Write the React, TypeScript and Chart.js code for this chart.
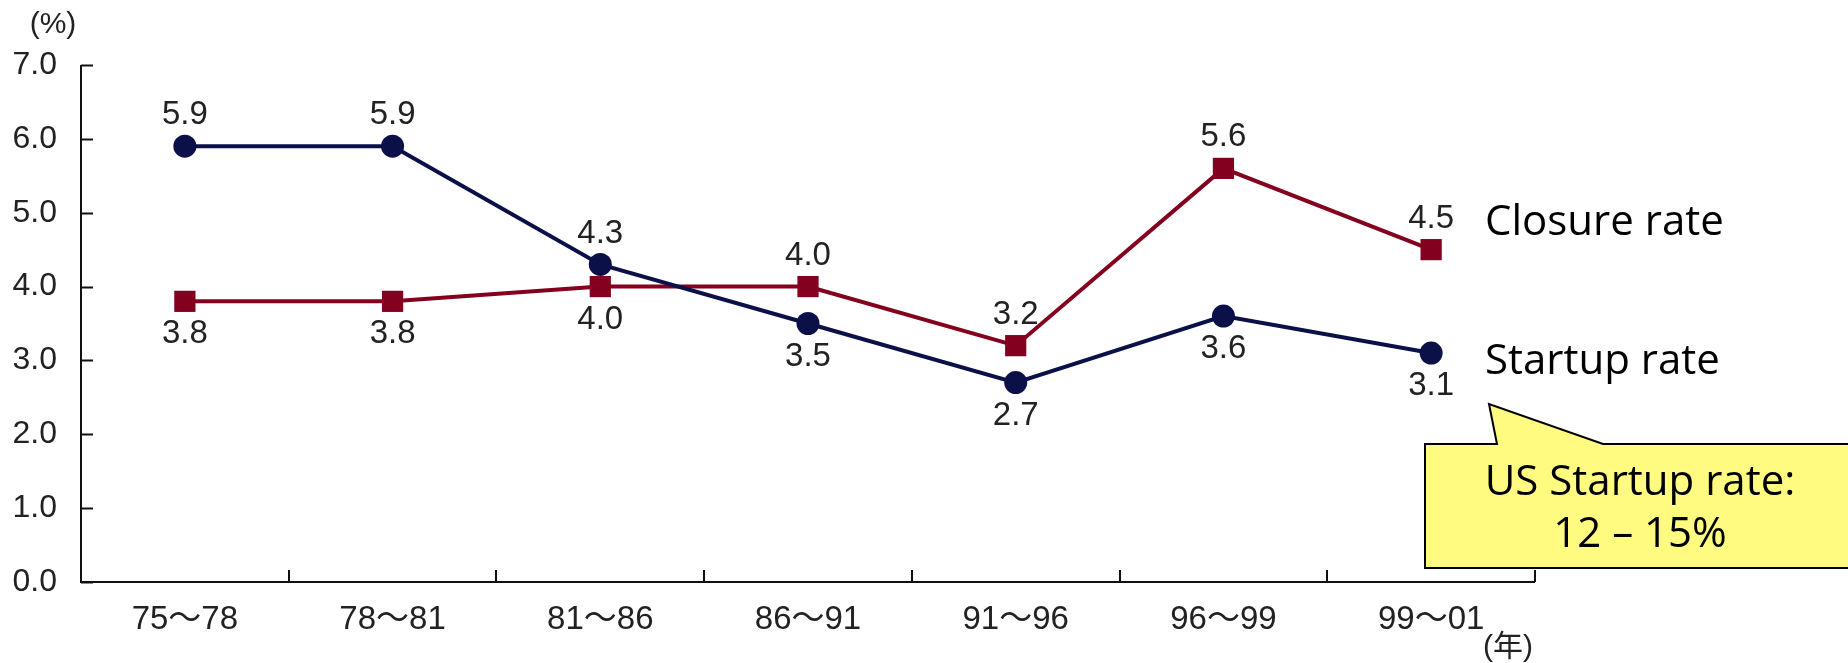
import React, { useEffect, useRef } from "react";
import { Chart, registerables } from "chart.js";

Chart.register(...registerables);

const categories = ["75～78", "78～81", "81～86", "86～91", "91～96", "96～99", "99～01"];
const startupRate = [5.9, 5.9, 4.3, 3.5, 2.7, 3.6, 3.1];
const closureRate = [3.8, 3.8, 4.0, 4.0, 3.2, 5.6, 4.5];
// label placement: 1 = above, -1 = below
const startupLabelPos = [1, 1, 1, -1, -1, -1, -1];
const closureLabelPos = [-1, -1, -1, 1, 1, 1, 1];
const yTicks = [0, 1, 2, 3, 4, 5, 6, 7];

const TICK_FONT = '"Liberation Sans", "Noto Sans CJK JP", sans-serif';
const TEXT_FONT = '"Open Sans", "Noto Sans", sans-serif';
const NAVY = "#0B1048";
const CRIMSON = "#84001F";

const decorPlugin = {
  id: "decor",
  afterDraw(chart: any) {
    const { ctx, chartArea } = chart;
    const xs = chart.scales.x;
    const ys = chart.scales.y;
    const { left, right, top, bottom } = chartArea;
    ctx.save();
    // axes
    ctx.strokeStyle = "#111";
    ctx.lineWidth = 2;
    ctx.beginPath();
    ctx.moveTo(left, top);
    ctx.lineTo(left, bottom);
    ctx.lineTo(right, bottom);
    ctx.stroke();
    // y ticks inward
    yTicks.forEach((v) => {
      const y = Math.round(ys.getPixelForValue(v)) + 0.5;
      ctx.beginPath();
      ctx.moveTo(left, y);
      ctx.lineTo(left + 12, y);
      ctx.stroke();
    });
    // x ticks inward at category boundaries
    for (let i = 1; i <= categories.length; i++) {
      let x: number;
      if (i === categories.length) x = right;
      else x = (xs.getPixelForValue(i - 1) + xs.getPixelForValue(i)) / 2;
      x = Math.round(x);
      ctx.beginPath();
      ctx.moveTo(x, bottom);
      ctx.lineTo(x, bottom - 12);
      ctx.stroke();
    }

    // data labels
    ctx.fillStyle = "#222";
    ctx.font = `33px ${TICK_FONT}`;
    ctx.textAlign = "center";
    ctx.textBaseline = "middle";
    const drawLabels = (di: number, vals: number[], pos: number[]) => {
      const meta = chart.getDatasetMeta(di);
      meta.data.forEach((el: any, i: number) => {
        const y = pos[i] > 0 ? el.y - 31 : el.y + 33;
        ctx.fillText(vals[i].toFixed(1), el.x, y);
      });
    };
    drawLabels(0, startupRate, startupLabelPos);
    drawLabels(1, closureRate, closureLabelPos);

    // axis unit labels
    ctx.font = `30px ${TICK_FONT}`;
    ctx.fillText("(%)", 53, 25);
    ctx.fillText("(年)", right - 27, 648);

    // series names
    ctx.fillStyle = "#000";
    ctx.font = `42px ${TEXT_FONT}`;
    ctx.textAlign = "left";
    ctx.textBaseline = "alphabetic";
    ctx.fillText("Closure rate", right - 50, 235);
    ctx.fillText("Startup rate", right - 50, 374);

    // callout
    ctx.beginPath();
    ctx.moveTo(1425, 444);
    ctx.lineTo(1497, 444);
    ctx.lineTo(1489, 404);
    ctx.lineTo(1603, 444);
    ctx.lineTo(1860, 444);
    ctx.lineTo(1860, 568);
    ctx.lineTo(1425, 568);
    ctx.closePath();
    ctx.fillStyle = "#FFFA80";
    ctx.fill();
    ctx.strokeStyle = "#000";
    ctx.lineWidth = 2;
    ctx.stroke();
    ctx.fillStyle = "#000";
    ctx.textAlign = "center";
    ctx.font = `42px ${TEXT_FONT}`;
    ctx.fillText("US Startup rate:", 1640, 495);
    ctx.fillText("12 – 15%", 1640, 547);
    ctx.restore();
  },
};

export default function App() {
  const ref = useRef<HTMLCanvasElement>(null);
  useEffect(() => {
    if (!ref.current) return;
    const chart = new Chart(ref.current, {
      type: "line",
      data: {
        labels: categories,
        datasets: [
          {
            label: "Startup rate",
            data: startupRate,
            borderColor: NAVY,
            backgroundColor: NAVY,
            borderWidth: 4,
            pointStyle: "circle",
            pointRadius: 11.5,
            pointBorderWidth: 0,
            tension: 0,
          },
          {
            label: "Closure rate",
            data: closureRate,
            borderColor: CRIMSON,
            backgroundColor: CRIMSON,
            borderWidth: 4,
            pointStyle: "rect",
            pointRadius: 15,
            pointBorderWidth: 0,
            tension: 0,
          },
        ],
      },
      options: {
        responsive: false,
        animation: false,
        layout: { padding: { left: 0, right: 313, top: 65, bottom: 0 } },
        plugins: { legend: { display: false }, tooltip: { enabled: false } },
        scales: {
          x: {
            type: "category",
            offset: true,
            grid: { display: false, drawTicks: false },
            border: { display: false },
            ticks: {
              color: "#222",
              font: { family: TICK_FONT, size: 33 },
              padding: 18,
              maxRotation: 0,
              autoSkip: false,
            },
            afterFit: (s: any) => {
              s.height = 81;
            },
          },
          y: {
            min: 0,
            max: 7,
            grid: { display: false, drawTicks: false },
            border: { display: false },
            ticks: {
              stepSize: 1,
              color: "#222",
              font: { family: TICK_FONT, size: 32 },
              padding: 24,
              callback: (v: any) => Number(v).toFixed(1),
            },
            afterFit: (s: any) => {
              s.width = 81;
            },
          },
        },
      },
      plugins: [decorPlugin],
    });
    return () => chart.destroy();
  }, []);
  return (
    <div style={{ position: "absolute", left: 0, top: 0, width: 1848, height: 663, background: "#fff" }}>
      <canvas ref={ref} width={1848} height={663} />
    </div>
  );
}
